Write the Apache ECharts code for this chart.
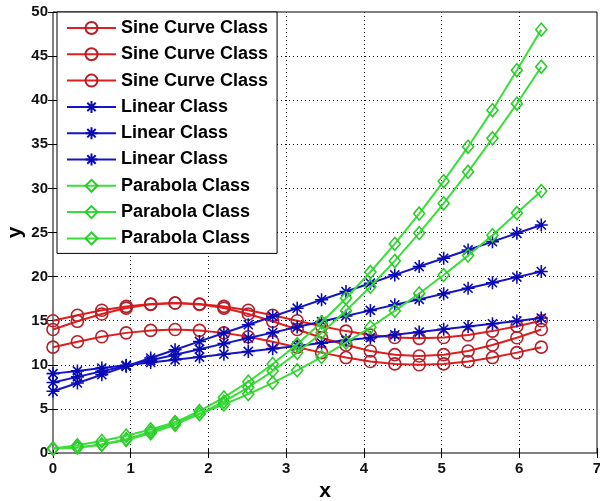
<!DOCTYPE html>
<html>
<head>
<meta charset="utf-8">
<script src="https://cdn.jsdelivr.net/npm/echarts@6/dist/echarts.min.js"></script>
<style>html,body{margin:0;padding:0;background:#fff;}#c{width:600px;height:501px;}</style>
</head>
<body>
<div id="c"></div>
<script>
// x positions (0 .. 2*pi, 21 samples)
const xs = [0, 0.314, 0.628, 0.942, 1.257, 1.571, 1.885, 2.199, 2.513, 2.827, 3.142, 3.456, 3.770, 4.084, 4.398, 4.712, 5.027, 5.341, 5.655, 5.969, 6.283];

// Sine Curve Class series
const sine1 = [15, 15.62, 16.18, 16.62, 16.9, 17, 16.9, 16.62, 16.18, 15.62, 15, 14.38, 13.82, 13.38, 13.1, 13, 13.1, 13.38, 13.82, 14.38, 15];
const sine2 = [14, 14.93, 15.76, 16.43, 16.85, 17, 16.85, 16.43, 15.76, 14.93, 14, 13.07, 12.24, 11.57, 11.15, 11, 11.15, 11.57, 12.24, 13.07, 14];
const sine3 = [12, 12.62, 13.18, 13.62, 13.9, 14, 13.9, 13.62, 13.18, 12.62, 12, 11.38, 10.82, 10.38, 10.1, 10, 10.1, 10.38, 10.82, 11.38, 12];

// Linear Class series
const lin1 = [9, 9.31, 9.63, 9.94, 10.26, 10.57, 10.88, 11.2, 11.51, 11.83, 12.14, 12.46, 12.77, 13.08, 13.4, 13.71, 14.03, 14.34, 14.65, 14.97, 15.3];
const lin2 = [8, 8.63, 9.26, 9.88, 10.51, 11.14, 11.77, 12.4, 13.03, 13.65, 14.28, 14.91, 15.54, 16.17, 16.8, 17.42, 18.05, 18.68, 19.31, 19.94, 20.57];
const lin3 = [7, 7.94, 8.88, 9.83, 10.77, 11.71, 12.65, 13.6, 14.54, 15.48, 16.42, 17.37, 18.31, 19.25, 20.19, 21.14, 22.08, 23.02, 23.96, 24.91, 25.85];

// Parabola Class series
const par1 = [0.5, 0.62, 0.97, 1.57, 2.39, 3.46, 4.76, 6.3, 8.08, 10.09, 12.34, 14.83, 17.55, 20.52, 23.71, 27.15, 30.82, 34.73, 38.87, 43.4, 48.0];
const par2 = [0.5, 0.61, 0.93, 1.48, 2.24, 3.21, 4.41, 5.82, 7.45, 9.29, 11.36, 13.64, 16.13, 18.85, 21.78, 24.93, 28.29, 31.88, 35.68, 39.6, 43.8];
const par3 = [0.5, 0.87, 1.36, 1.96, 2.67, 3.5, 4.45, 5.5, 6.68, 7.96, 9.37, 10.88, 12.51, 14.26, 16.12, 18.09, 20.18, 22.38, 24.7, 27.2, 29.7];

// axis ticks
const xTicks = [0, 1, 2, 3, 4, 5, 6, 7];
const yTicks = [0, 5, 10, 15, 20, 25, 30, 35, 40, 45, 50];

const names = ['Sine Curve Class', 'Sine Curve Class', 'Sine Curve Class',
               'Linear Class', 'Linear Class', 'Linear Class',
               'Parabola Class', 'Parabola Class', 'Parabola Class'];
const seriesData = [sine1, sine2, sine3, lin1, lin2, lin3, par1, par2, par3];

const RED = '#e01e1e', RED_M = '#b3202a';
const BLUE = '#1414c8', BLUE_M = '#0a0ab4';
const GREEN = '#3ade3a', GREEN_M = '#2ccc2c';
const STAR = 'path://M0,-10L0,10M-10,0L10,0M-7,-7L7,7M-7,7L7,-7';

function styleFor(i) {
  if (i < 3) return {line: RED, mark: RED_M, symbol: 'circle', size: 12};
  if (i < 6) return {line: BLUE, mark: BLUE_M, symbol: STAR, size: 13};
  return {line: GREEN, mark: GREEN_M, symbol: 'diamond', size: [11, 13]};
}

const font = 'Liberation Sans, Arial, sans-serif';

const series = seriesData.map(function (arr, i) {
  const st = styleFor(i);
  return {
    name: 's' + i,
    type: 'line',
    data: xs.map(function (x, k) { return [x, arr[k]]; }),
    symbol: st.symbol,
    symbolSize: st.size,
    showAllSymbol: true,
    lineStyle: {color: st.line, width: 2},
    itemStyle: {color: 'none', borderColor: st.mark, borderWidth: 1.6},
    emphasis: {disabled: true},
    z: 3 + i,
    animation: false
  };
});

const axisCommon = {
  type: 'value',
  axisLine: {show: false},
  axisTick: {show: true, inside: true, length: 5, lineStyle: {color: '#000', width: 1}}
};

const chart = echarts.init(document.getElementById('c'), null, {renderer: 'canvas'});
chart.setOption({
  animation: false,
  backgroundColor: '#fff',
  grid: {left: 53, right: 3, top: 12, bottom: 48, show: true, borderColor: '#000', borderWidth: 1, backgroundColor: '#fff', containLabel: false, outerBoundsMode: 'none'},
  xAxis: [
    Object.assign({}, axisCommon, {
      min: xTicks[0], max: xTicks[xTicks.length - 1], interval: 1, position: 'bottom',
      name: 'x', nameLocation: 'middle', nameGap: 27,
      nameTextStyle: {fontFamily: font, fontWeight: 'bold', fontSize: 21, color: '#000'},
      axisLabel: {fontFamily: font, fontWeight: 'bold', fontSize: 15, color: '#111', margin: 8},
      splitLine: {show: true, showMinLine: false, showMaxLine: false, lineStyle: {color: '#000', width: 1, type: [1, 3]}}
    }),
    Object.assign({}, axisCommon, {
      min: xTicks[0], max: xTicks[xTicks.length - 1], interval: 1, position: 'top',
      axisLabel: {show: false}, splitLine: {show: false}
    })
  ],
  yAxis: [
    Object.assign({}, axisCommon, {
      min: yTicks[0], max: yTicks[yTicks.length - 1], interval: 5, position: 'left',
      name: 'y', nameLocation: 'middle', nameGap: 27, nameRotate: 90, nameMoveOverlap: false,
      nameTextStyle: {fontFamily: font, fontWeight: 'bold', fontSize: 21, color: '#000'},
      axisLabel: {fontFamily: font, fontWeight: 'bold', fontSize: 15, color: '#111', margin: 5},
      splitLine: {show: true, showMinLine: false, showMaxLine: false, lineStyle: {color: '#000', width: 1, type: [1, 3]}}
    }),
    Object.assign({}, axisCommon, {
      min: yTicks[0], max: yTicks[yTicks.length - 1], interval: 5, position: 'right',
      axisLabel: {show: false}, splitLine: {show: false}
    })
  ],
  legend: {
    orient: 'vertical',
    left: 57, top: 12,
    padding: [7, 9, 6, 9],
    itemGap: 8.3,
    itemWidth: 49,
    itemHeight: 15,
    backgroundColor: '#fff',
    borderColor: '#000',
    borderWidth: 1,
    borderRadius: 0,
    selectedMode: false,
    z: 20,
    data: series.map(function (s) { return s.name; }),
    formatter: function (n) { return names[parseInt(n.slice(1), 10)]; },
    textStyle: {fontFamily: font, fontWeight: 'bold', fontSize: 18, lineHeight: 18, color: '#000', padding: [0, 0, 0, 0]}
  },
  series: series
});
</script>
</body>
</html>
